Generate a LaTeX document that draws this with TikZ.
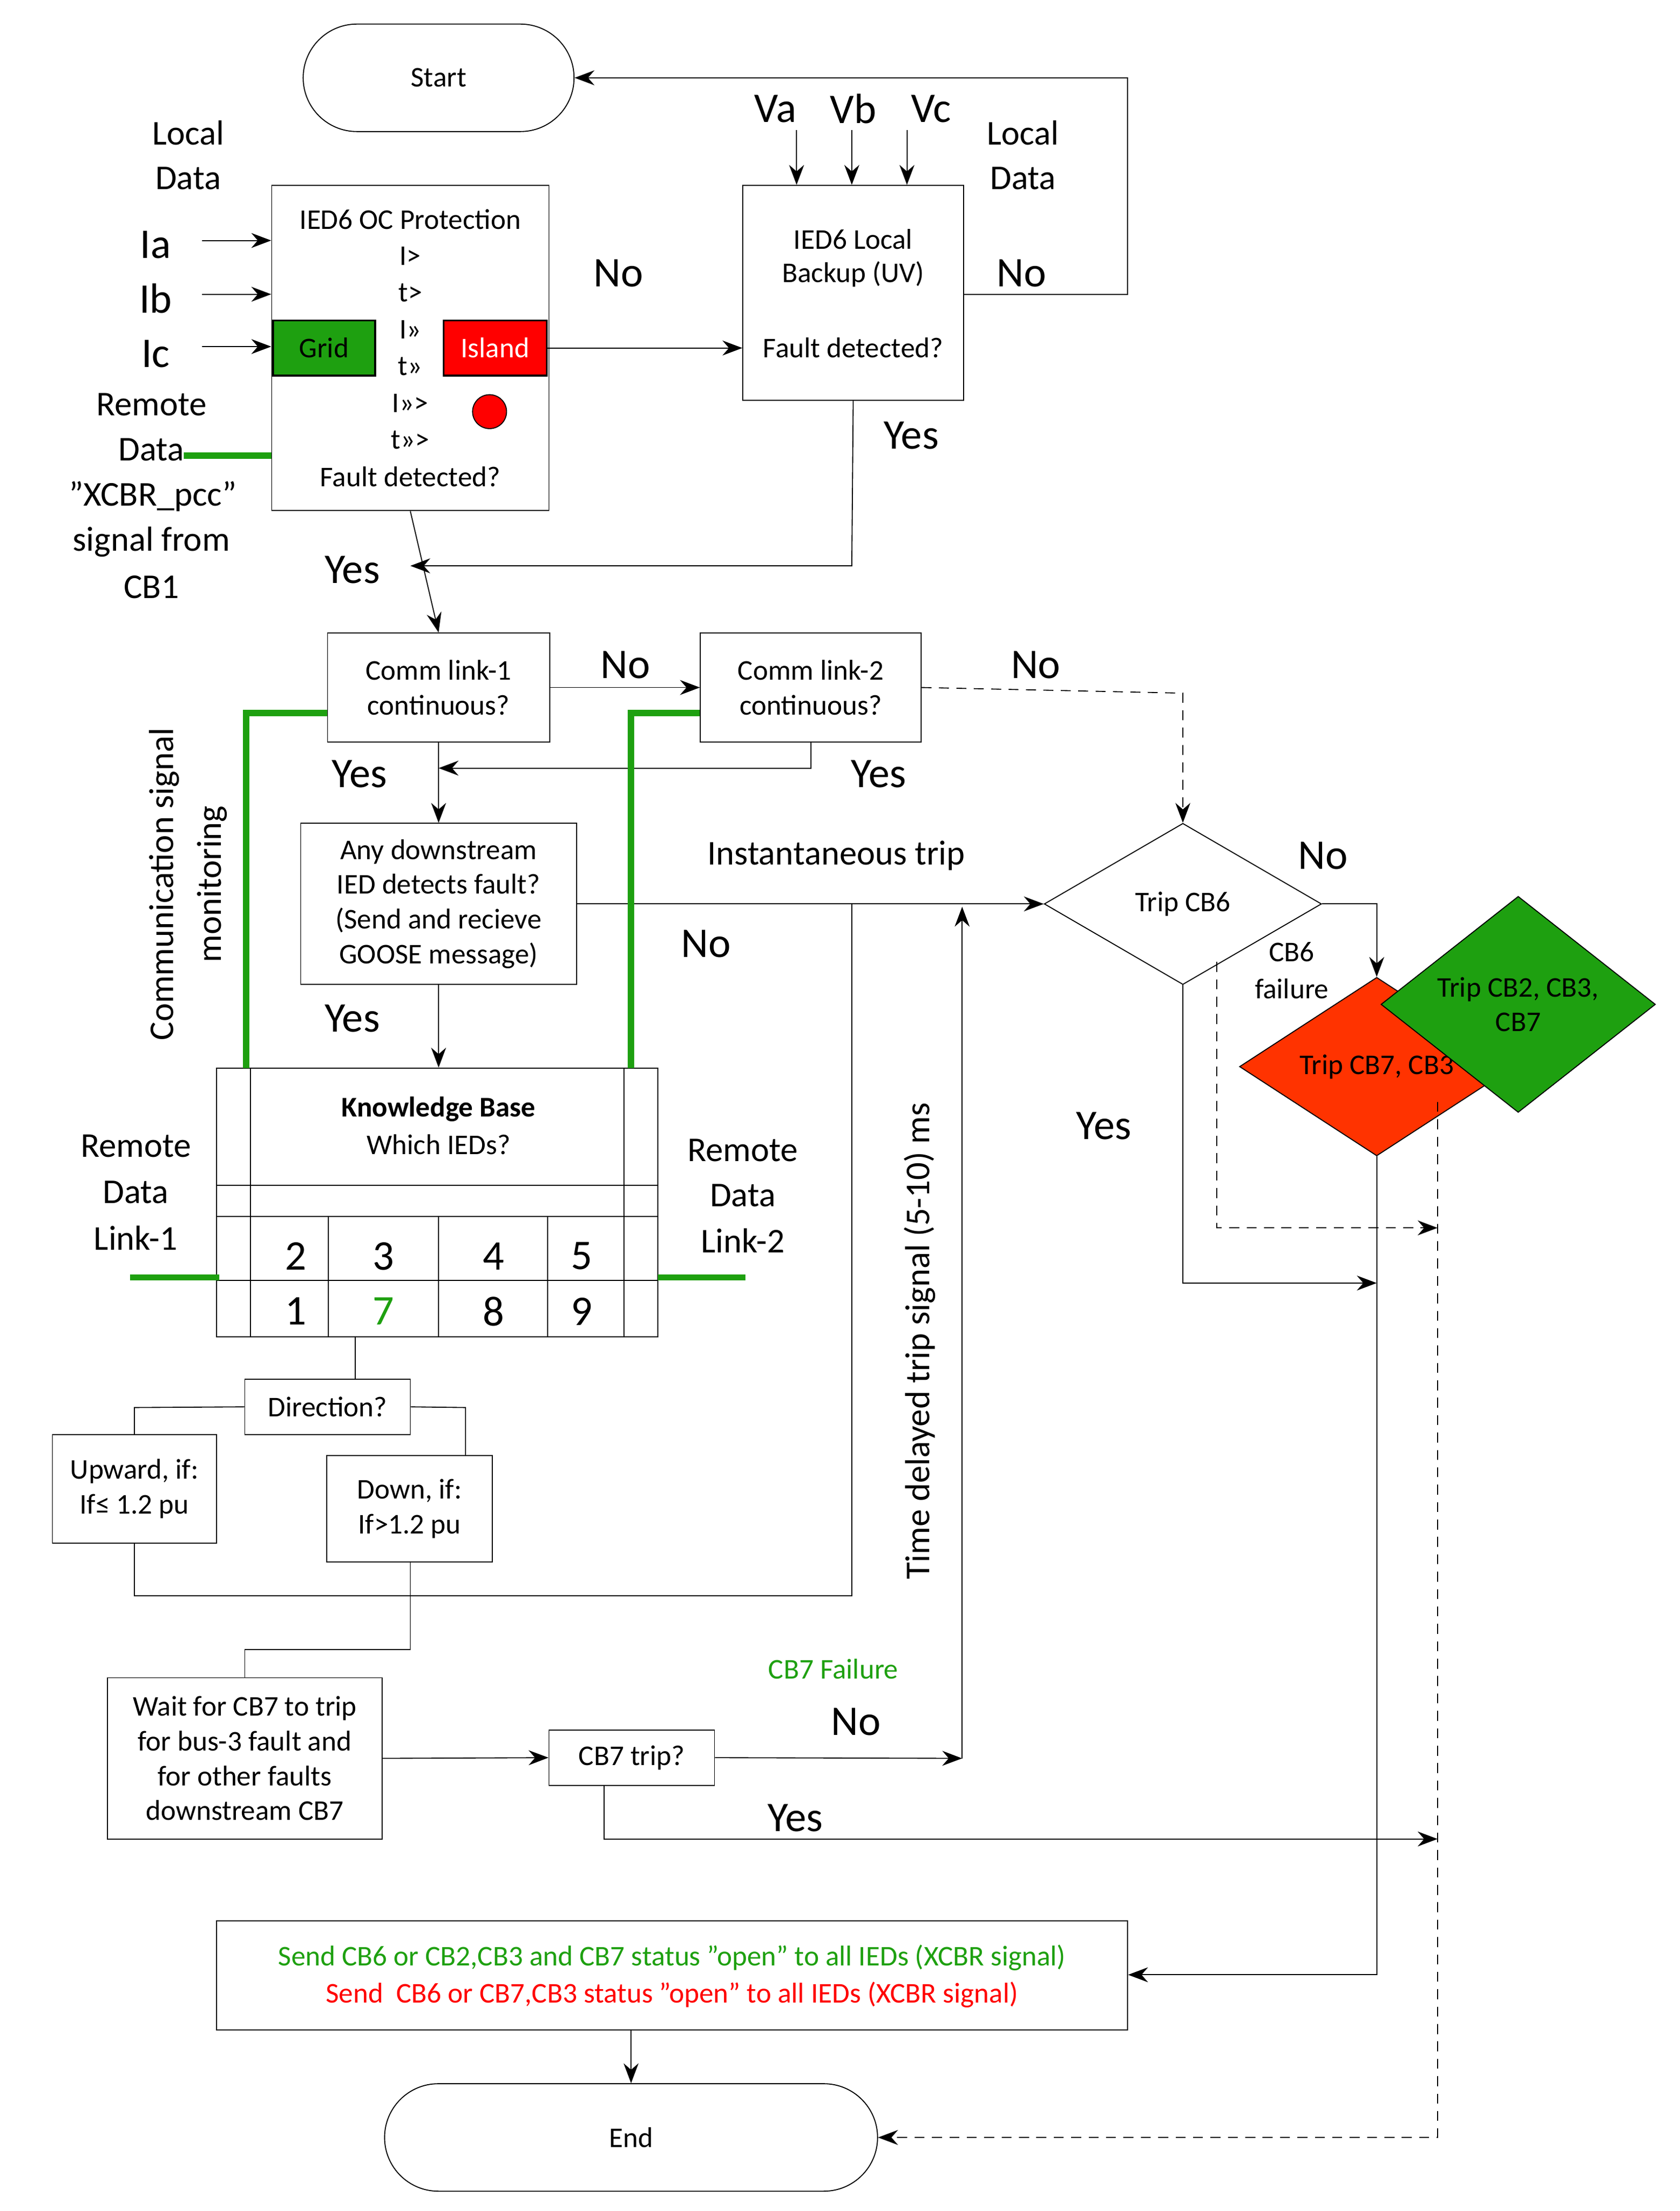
\documentclass[tikz,border=0pt]{standalone}
\usepackage{fontspec}
\setmainfont{Carlito}
\usetikzlibrary{shapes.geometric,shapes.misc,arrows.meta}
\definecolor{gg}{RGB}{30,160,16}
\definecolor{rr}{RGB}{255,0,0}
\definecolor{ro}{RGB}{255,51,0}
\begin{document}
\begin{tikzpicture}[x=0.02cm,y=-0.02cm,
  every node/.style={font=\fontsize{11.5}{14}\selectfont,inner sep=1pt},
  box/.style={draw,rectangle,align=center},
  term/.style={draw,rounded rectangle},
  big/.style={font=\fontsize{17}{20}\selectfont},
  arr/.style={-{Stealth[length=8pt,width=6pt]}},
  gl/.style={gg,line width=2.5pt},
  dsh/.style={dashed,dash pattern=on 4pt off 3pt}]
\useasboundingbox (0,0) rectangle (1187,1563);
% terminals
\node[term,minimum width=3.9cm,minimum height=1.52cm] (start) at (310,55) {Start};
\node[term,minimum width=7.04cm,minimum height=1.52cm] (end) at (446,1511) {End};
% OC box
\node[box,minimum width=3.92cm,minimum height=4.6cm] (oc) at (290,246) {};
\node at (290,155) {IED6 OC Protection};
\node at (290,181) {I>};
\node at (290,207) {t>};
\node at (290,233) {I>>};
\node at (290,259) {t>>};
\node at (290,285) {I>>>};
\node at (290,311) {t>>>};
\node at (290,337) {Fault detected?};
\node[box,fill=gg,minimum width=1.44cm,minimum height=0.78cm,line width=0.8pt] (grid) at (229,246) {Grid};
\node[box,fill=rr,text=white,minimum width=1.46cm,minimum height=0.78cm,line width=0.8pt] (island) at (350,246) {Island};
\node[draw,circle,fill=rr,minimum size=0.48cm,inner sep=0] (dot) at (346,291) {};
\node at (133,94) {\fontsize{14}{16}\selectfont Local};
\node at (133,126) {\fontsize{14}{16}\selectfont Data};
\node[big] (ia) at (110,173) {Ia};
\node[big] (ib) at (110,211) {Ib};
\node[big] (ic) at (110,250) {Ic};
\coordinate (ia0) at (143,170); \coordinate (ib0) at (143,208); \coordinate (ic0) at (143,245);
\draw[arr] (ia0) -- (ia0 -| oc.west);
\draw[arr] (ib0) -- (ib0 -| oc.west);
\draw[arr] (ic0) -- (ic0 -| oc.west);
\node at (107,286) {\fontsize{14}{16}\selectfont Remote};
\node at (107,318) {\fontsize{14}{16}\selectfont Data};
\coordinate (rd0) at (130,322);
\draw[gl] (rd0) -- (rd0 -| oc.west);
\node at (108,351) {\fontsize{14}{16}\selectfont ”XCBR\_pcc”};
\node at (107,383) {\fontsize{14}{16}\selectfont signal from};
\node at (107,415) {\fontsize{14}{16}\selectfont CB1};
% UV box
\node[box,minimum width=3.12cm,minimum height=3.04cm] (uv) at (603,207) {};
\node at (603,169) {IED6 Local};
\node at (603,194) {Backup (UV)};
\node at (603,246) {Fault detected?};
\node[big] (va) at (548,77) {Va};
\node[big] (vb) at (603,77) {Vb};
\node[big] (vc) at (658,77) {Vc};
\coordinate (va0) at (563,92); \coordinate (vb0) at (602,92); \coordinate (vc0) at (641,92);
\draw[arr] (va0) -- (va0 |- uv.north);
\draw[arr] (vb0) -- (vb0 |- uv.north);
\draw[arr] (vc0) -- (vc0 |- uv.north);
\node at (723,94) {\fontsize{14}{16}\selectfont Local};
\node at (723,126) {\fontsize{14}{16}\selectfont Data};
\draw[arr] (island.east) -- (island.east -| uv.west);
\node[big] at (437,193) {No};
\coordinate (uvr) at (681,208);
\draw[arr] (uvr) -- (797,208) -- (797,55) -- (start.east);
\node[big] at (722,193) {No};
\draw[arr] (uv.south) -- (602,400) -- (290,400);
\node[big] at (644,308) {Yes};
\node[big] at (249,403) {Yes};
% comm links
\node[box,minimum width=3.14cm,minimum height=1.54cm] (l1) at (310,486) {Comm link-1\\continuous?};
\node[box,minimum width=3.12cm,minimum height=1.54cm] (l2) at (573,486) {Comm link-2\\continuous?};
\draw[arr] (oc.south) -- (l1.north);
\draw[arr] (l1.east) -- (l2.west);
\node[big] at (442,470) {No};
\node[diamond,draw,minimum width=3.92cm,minimum height=2.28cm,inner sep=0] (d6) at (836,639) {Trip CB6};
\draw[arr,dsh] (l2.east) -- (836,490) -- (d6.north);
\node[big] at (732,470) {No};
\draw[arr] (l2.south) -- (573,543) -- (310,543);
\node[big] at (621,547) {Yes};
\node[big] at (254,547) {Yes};
\node[box,minimum width=3.9cm,minimum height=2.28cm] (any) at (310,639) {Any downstream\\IED detects fault?\\(Send and recieve\\GOOSE message)};
\draw[arr] (l1.south) -- (any.north);
\draw[arr] (any.east) -- (d6.west);
\node at (591,605) {\fontsize{14}{16}\selectfont Instantaneous trip};
\node[big] at (499,667) {No};
% KB
\node[box,minimum width=6.24cm,minimum height=3.8cm] (kb) at (309,850) {};
\draw (177,755) -- (177,945) (441,755) -- (441,945);
\draw (153,838) -- (465,838) (153,860) -- (465,860) (153,905) -- (465,905);
\draw (232,860) -- (232,945) (310,860) -- (310,945) (387,860) -- (387,945);
\node at (310,784) {\textbf{Knowledge Base}};
\node at (310,809) {Which IEDs?};
\foreach \t/\x in {2/209,3/271,4/349,5/411} \node[big] at (\x,888) {\t};
\foreach \t/\x in {1/209,8/349,9/411} \node[big] at (\x,927) {\t};
\node[big,text=gg] at (271,927) {7};
\draw[arr] (any.south) -- (kb.north -| any.south);
\node[big] at (249,720) {Yes};
% green monitoring lines
\draw[gl] (l1.west |- 0,504) -- (174,504) -- (174,755);
\draw[gl] (l2.west |- 0,504) -- (446,504) -- (446,755);
\draw[gl] (92,903) -- (155,903);
\draw[gl] (465,903) -- (527,903);
\node[rotate=90] at (116,625) {\fontsize{14}{16}\selectfont Communication signal};
\node[rotate=90] at (150,625) {\fontsize{14}{16}\selectfont monitoring};
\foreach \t/\y in {Remote/810,Data/843,Link-1/875} \node at (96,\y) {\fontsize{14}{16}\selectfont \t};
\foreach \t/\y in {Remote/813,Data/845,Link-2/877} \node at (525,\y) {\fontsize{14}{16}\selectfont \t};
% direction
\node[box,minimum width=2.34cm,minimum height=0.78cm] (dir) at (231.5,994.5) {Direction?};
\node[box,minimum width=2.32cm,minimum height=1.54cm] (up) at (95,1052.5) {Upward, if:\\If≤ 1.2 pu};
\node[box,minimum width=2.34cm,minimum height=1.5cm] (down) at (289.5,1066.5) {Down, if:\\If>1.2 pu};
\draw (251,945) -- (251,975);
\draw (dir.west) -- (95,995) -- (up.north);
\draw (dir.east) -- (329,995) -- (329,1029);
\draw (up.south) -- (95,1128) -- (602,1128) -- (602,639);
% wait & cb7
\node[box,minimum width=3.88cm,minimum height=2.28cm] (wait) at (173,1243) {Wait for CB7 to trip\\for bus-3 fault and\\for other faults\\downstream CB7};
\node[box,minimum width=2.34cm,minimum height=0.78cm] (cb7) at (446.5,1242.5) {CB7 trip?};
\draw (290,1104) -- (290,1166) -- (173,1166) -- (wait.north);
\draw[arr] (wait.east) -- (cb7.west);
\coordinate (tdb) at (680,1243);
\draw[arr] (cb7.east) -- (tdb);
\draw[arr] (tdb) -- (680,641);
\node[text=gg] at (589,1180) {CB7 Failure};
\node[big] at (605,1217) {No};
\node[rotate=90] at (650,948) {\fontsize{14}{16}\selectfont Time delayed trip signal (5-10) ms};
\coordinate (yr) at (1016,1300);
\draw[arr] (427,1262) -- (427,1300) -- (yr);
\node[big] at (562,1285) {Yes};
% diamonds
\node[diamond,draw,fill=ro,minimum width=3.88cm,minimum height=2.28cm,inner sep=0] (red) at (973,754) {Trip CB7, CB3};
\node[diamond,draw,fill=gg,minimum width=3.88cm,minimum height=2.28cm,inner sep=0,align=center] (grn) at (1073,710) {Trip CB2, CB3,\\CB7};
\draw[arr] (d6.east) -- (973,639) -- (red.north);
\node[big] at (935,605) {No};
\node at (913,673) {CB6};
\node at (913,699) {failure};
\draw[arr] (d6.south) -- (836,907) -- (973,907);
\node[big] at (780,796) {Yes};
\draw[arr,dsh] (860,680) -- (860,868) -- (1016,868);
% send
\node[box,minimum width=12.88cm,minimum height=1.54cm] (send) at (475,1396.5) {};
\node[text=gg] at (475,1384) {Send CB6 or CB2,CB3 and CB7 status ”open” to all IEDs (XCBR signal)};
\node[text=rr] at (475,1410) {Send\ \ CB6 or CB7,CB3 status ”open” to all IEDs (XCBR signal)};
\draw[arr] (red.south) -- (973,1396) -- (send.east |- 0,1396);
\draw[arr,dsh] (1016,779) -- (1016,1511) -- (end.east);
\draw[arr] (send.south -| end.north) -- (end.north);
\end{tikzpicture}
\end{document}
